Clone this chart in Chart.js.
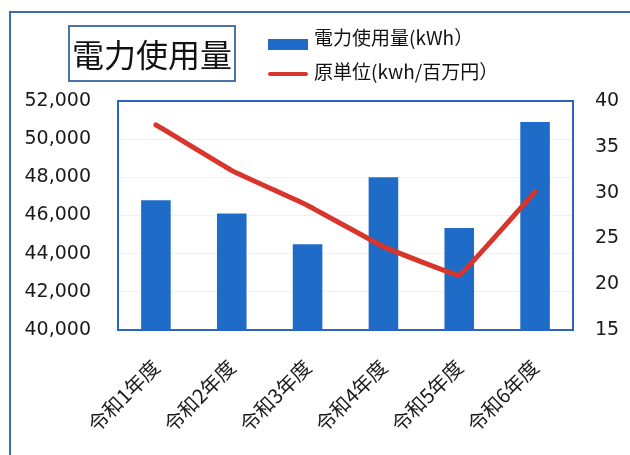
<!DOCTYPE html>
<html><head><meta charset="utf-8">
<script src="https://cdn.jsdelivr.net/npm/chart.js@4.4.0/dist/chart.umd.min.js"></script>
<style>
html,body{margin:0;padding:0;background:#fff;}
#wrap{position:relative;width:630px;height:455px;overflow:hidden;background:#fff;}
#frame{position:absolute;left:9px;top:11px;width:700px;height:500px;border-left:2px solid #3c6db4;border-top:2px solid #3c6db4;}
#title{position:absolute;left:68px;top:25px;width:164px;height:53px;border:2px solid #4a73aa;font:32px "Noto Sans CJK JP";color:#111;text-align:center;line-height:53px;box-sizing:content-box;}
#legend{position:absolute;left:268px;top:26px;font:19px "Noto Sans CJK JP";color:#111;}
.li{position:relative;height:34px;line-height:22px;padding-left:46px;white-space:nowrap;}
.sw{position:absolute;left:0;}
canvas{position:absolute;left:0;top:0;}
</style></head>
<body><div id="wrap">
<canvas id="c" width="630" height="455"></canvas>
<div id="frame"></div>
<div id="title">電力使用量</div>
<div id="legend"></div>
</div>
<script>
const categories = ['令和1年度','令和2年度','令和3年度','令和4年度','令和5年度','令和6年度'];
const usageLabel = '電力使用量(kWh）';
const intensityLabel = '原単位(kwh/百万円）';
const usage = [46800, 46100, 44500, 48000, 45350, 50900];
const intensity = [37.4, 32.4, 28.6, 24.1, 21.0, 30.1];
const leftTicks = [40000, 42000, 44000, 46000, 48000, 50000, 52000];
const rightTicks = [15, 20, 25, 30, 35, 40];

const BLUE = '#1f6cc8', RED = '#d8352c';

const lg = document.getElementById('legend');
lg.innerHTML =
  '<div class="li"><span class="sw" style="top:13px;width:40px;height:11px;background:'+BLUE+'"></span>'+usageLabel+'</div>'+
  '<div class="li"><span class="sw" style="top:12px;width:40px;height:4px;border-radius:2px;background:'+RED+'"></span>'+intensityLabel+'</div>';

const plotBorder = {
  id:'plotBorder',
  afterDraw(chart){
    const a = chart.chartArea, ctx = chart.ctx;
    ctx.save();
    ctx.strokeStyle = '#2d63c2';
    ctx.lineWidth = 2;
    ctx.strokeRect(a.left, a.top, a.right - a.left, a.bottom - a.top);
    ctx.restore();
  }
};

const tickFont = {family:'DejaVu Sans', size:19};
new Chart(document.getElementById('c'), {
  data: {
    labels: categories,
    datasets: [
      {type:'line', label:intensityLabel, data:intensity, yAxisID:'y1', borderColor:RED, borderWidth:5, pointRadius:0, tension:0.05, order:0, borderCapStyle:'round', borderJoinStyle:'round'},
      {type:'bar', label:usageLabel, data:usage, yAxisID:'y', backgroundColor:BLUE, categoryPercentage:1, barPercentage:0.39, order:1}
    ]
  },
  options: {
    responsive:false, animation:false,
    layout:{padding:{top:101, left:0, right:0, bottom:0}},
    plugins:{legend:{display:false}, tooltip:{enabled:false}, title:{display:false}},
    scales:{
      x:{
        grid:{display:false, drawTicks:false}, border:{display:false},
        ticks:{font:{family:'Noto Sans CJK JP', size:20}, color:'#1a1a1a', minRotation:45, maxRotation:45, padding:25},
        afterFit(s){ s.height = 125; }
      },
      y:{
        position:'left', min:leftTicks[0], max:leftTicks[leftTicks.length-1],
        afterBuildTicks(s){ s.ticks = leftTicks.map(v=>({value:v})); },
        ticks:{font:tickFont, color:'#1a1a1a', padding:27, callback:v=>Number(v).toLocaleString('en-US')},
        grid:{color:'#f1f1f1', drawTicks:false}, border:{display:false},
        afterFit(s){ s.width = 118; }
      },
      y1:{
        position:'right', min:rightTicks[0], max:rightTicks[rightTicks.length-1],
        afterBuildTicks(s){ s.ticks = rightTicks.map(v=>({value:v})); },
        ticks:{font:tickFont, color:'#1a1a1a', padding:22},
        grid:{display:false, drawTicks:false}, border:{display:false},
        afterFit(s){ s.width = 57; }
      }
    }
  },
  plugins:[plotBorder]
});
</script>
</body></html>
